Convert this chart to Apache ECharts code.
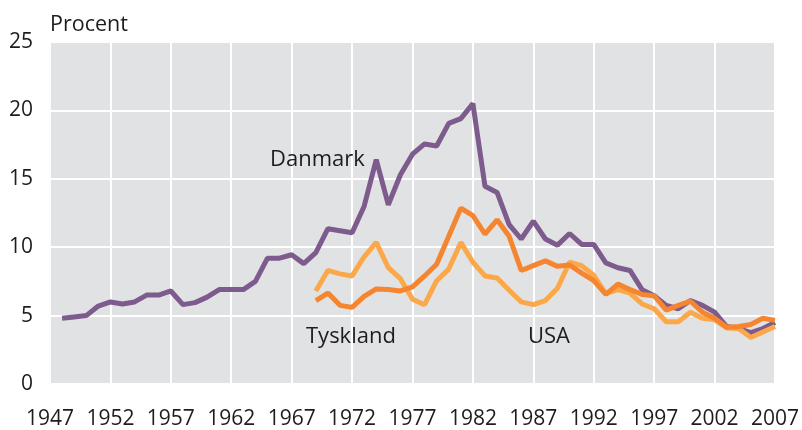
<!DOCTYPE html>
<html>
<head>
<meta charset="utf-8">
<script src="https://cdn.jsdelivr.net/npm/echarts@6/dist/echarts.min.js"></script>
<style>
  html, body { margin: 0; padding: 0; background: #ffffff; }
  #chart { width: 802px; height: 430px; }
</style>
</head>
<body>
<div id="chart"></div>
<script>
// Years on the x axis, 1947-2007
const years = Array.from({ length: 61 }, (_, i) => 1947 + i);

// Long-term interest rate, per cent
const danmarkStart = 1948;
const danmark = [
  4.8, 4.9, 5.0, 5.7, 6.0, 5.85, 6.0, 6.5, 6.5, 6.8,
  5.8, 5.95, 6.35, 6.9, 6.9, 6.9, 7.5, 9.2, 9.2, 9.45,
  8.8, 9.6, 11.35, 11.2, 11.05, 13.0, 16.4, 13.1, 15.3, 16.8,
  17.55, 17.4, 19.05, 19.4, 20.5, 14.45, 14.0, 11.65, 10.6, 11.9,
  10.6, 10.15, 11.0, 10.2, 10.2, 8.85, 8.5, 8.3, 6.9, 6.45,
  5.75, 5.5, 6.1, 5.75, 5.25, 4.2, 4.05, 3.75, 4.05, 4.5
];

const tysklandStart = 1969;
const tyskland = [
  6.8, 8.3, 8.05, 7.9, 9.3, 10.35, 8.5, 7.7, 6.2, 5.8,
  7.55, 8.4, 10.35, 8.9, 7.9, 7.75, 6.85, 6.0, 5.8, 6.1,
  7.0, 8.9, 8.65, 7.95, 6.6, 6.9, 6.65, 5.85, 5.5, 4.55,
  4.55, 5.25, 4.8, 4.7, 4.1, 4.05, 3.4, 3.8, 4.2
];

const usaStart = 1969;
const usa = [
  6.1, 6.65, 5.75, 5.6, 6.4, 6.95, 6.9, 6.8, 7.1, 7.9,
  8.75, 10.8, 12.85, 12.3, 10.95, 12.0, 10.8, 8.3, 8.65, 9.0,
  8.6, 8.7, 8.1, 7.55, 6.55, 7.3, 6.9, 6.55, 6.45, 5.4,
  5.75, 6.05, 5.25, 4.8, 4.15, 4.2, 4.35, 4.8, 4.65
];

const yTicks = [0, 5, 10, 15, 20, 25];

// Align a series that starts at a given year with the year categories
function alignToYears(startYear, values) {
  return years.map(y => {
    const i = y - startYear;
    return i >= 0 && i < values.length ? values[i] : null;
  });
}

const FONT = '"Open Sans", "DejaVu Sans", sans-serif';
const TEXT = '#1f1c1d';

const chart = echarts.init(document.getElementById('chart'), null, { renderer: 'canvas' });

chart.setOption({
  animation: false,
  backgroundColor: '#ffffff',
  grid: {
    left: 50, right: 24, top: 42, bottom: 44,
    show: true, backgroundColor: '#e1e2e4', borderWidth: 0
  },
  xAxis: {
    type: 'category',
    data: years,
    boundaryGap: false,
    axisLine: { show: false },
    axisTick: { show: false },
    axisLabel: {
      interval: 4, margin: 25,
      fontFamily: FONT, fontSize: 21, color: TEXT
    },
    splitLine: { show: true, interval: 4, lineStyle: { color: '#ffffff', width: 2 } }
  },
  yAxis: {
    type: 'value',
    min: yTicks[0], max: yTicks[yTicks.length - 1], interval: 5,
    axisLine: { show: false },
    axisTick: { show: false },
    axisLabel: { margin: 17, fontFamily: FONT, fontSize: 21, color: TEXT },
    splitLine: { show: true, lineStyle: { color: '#ffffff', width: 2 } }
  },
  graphic: [
    { type: 'text', left: 50, top: 14, z: 100,
      style: { text: 'Procent', font: '21.5px ' + FONT, fill: TEXT } },
    { type: 'text', left: 270, top: 149, z: 100,
      style: { text: 'Danmark', font: '22px ' + FONT, fill: TEXT } },
    { type: 'text', left: 306, top: 326, z: 100,
      style: { text: 'Tyskland', font: '22px ' + FONT, fill: TEXT } },
    { type: 'text', left: 528, top: 326, z: 100,
      style: { text: 'USA', font: '22px ' + FONT, fill: TEXT } }
  ],
  series: [
    {
      name: 'Danmark', type: 'line', showSymbol: false,
      data: alignToYears(danmarkStart, danmark),
      lineStyle: { color: '#7d5b8c', width: 5 }, z: 2
    },
    {
      name: 'Tyskland', type: 'line', showSymbol: false,
      data: alignToYears(tysklandStart, tyskland),
      lineStyle: { color: '#fba84a', width: 5 }, z: 3
    },
    {
      name: 'USA', type: 'line', showSymbol: false,
      data: alignToYears(usaStart, usa),
      lineStyle: { color: '#f5852f', width: 5 }, z: 4
    }
  ]
});
</script>
</body>
</html>
